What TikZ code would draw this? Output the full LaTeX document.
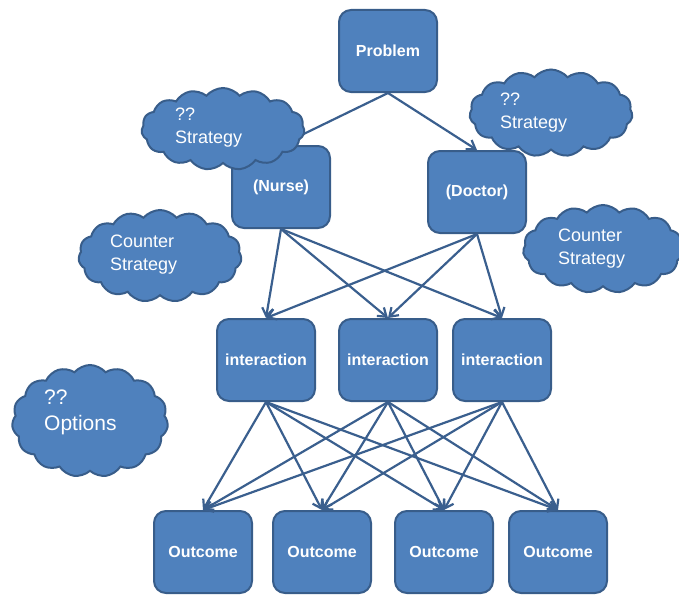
\documentclass[tikz,border=0pt]{standalone}
\usepackage{fontspec}
\setmainfont{Liberation Sans}
\usetikzlibrary{shapes.symbols,arrows.meta}
\definecolor{boxfill}{HTML}{4F81BD}
\definecolor{boxline}{HTML}{385D8A}
\definecolor{arcline}{HTML}{3A5F8E}
\begin{document}
\begin{tikzpicture}[x=1pt,y=-1pt]
    \tikzset{
        vertex/.style={draw=boxline, fill=boxfill, line width=2pt, rounded corners=12pt,
            minimum width=98pt, minimum height=82pt, text=white, align=center,
            font=\fontsize{16}{19}\selectfont\bfseries},
        arc/.style={-{Straight Barb[length=8pt,width=11pt]}, draw=arcline, line width=2.2pt},
        puff/.style={cloud, cloud puffs=15, cloud puff arc=100, draw=boxline, fill=boxfill,
            line width=2pt, inner sep=0pt},
        puffnote/.style={anchor=north west, inner sep=0pt, text=white, align=left,
            font=\fontsize{18}{23}\selectfont}
    }
    \useasboundingbox (0,0) rectangle (679,594);

    % boxes
    \node[vertex] (prob) at (388,51) {Problem};
    \node[vertex] (nurse) at (281,187) {(Nurse)};
    \node[vertex] (doc) at (477,192) {(Doctor)};
    \node[vertex] (i1) at (266,360) {interaction};
    \node[vertex] (i2) at (388,360) {interaction};
    \node[vertex] (i3) at (502,360) {interaction};
    \node[vertex] (o1) at (203,552) {Outcome};
    \node[vertex] (o2) at (322,552) {Outcome};
    \node[vertex] (o3) at (444,552) {Outcome};
    \node[vertex] (o4) at (558,552) {Outcome};

    % arcs
    \draw[arc] (prob.south) -- (nurse.north);
    \draw[arc] (prob.south) -- (doc.north);
    \foreach \x in {nurse,doc}{
        \foreach \y in {i1,i2,i3}{
            \draw[arc] (\x.south) -- (\y.north);
        }
    }
    \foreach \x in {i1,i2,i3}{
        \foreach \y in {o1,o2,o3,o4}{
            \draw[arc] (\x.south) -- (\y.north);
        }
    }

    % clouds
    \node[puff, minimum width=163pt, minimum height=82pt] (c1) at (223,129) {};
    \node[puff, minimum width=163pt, minimum height=87pt] (c2) at (551,113) {};
    \node[puff, minimum width=163pt, minimum height=92pt] (c3) at (160,256) {};
    \node[puff, minimum width=160pt, minimum height=88pt] (c4) at (603,249) {};
    \node[puff, minimum width=156pt, minimum height=112pt] (c5) at (90,421) {};
    \node[puffnote] (t1) at (175,108) {??\\Strategy};
    \node[puffnote] (t2) at (500,93) {??\\Strategy};
    \node[puffnote] (t3) at (110,235) {Counter\\Strategy};
    \node[puffnote] (t4) at (558,229) {Counter\\Strategy};
    \node[puffnote, font=\fontsize{21}{26}\selectfont] (t5) at (44,390) {??\\Options};
\end{tikzpicture}
\end{document}
